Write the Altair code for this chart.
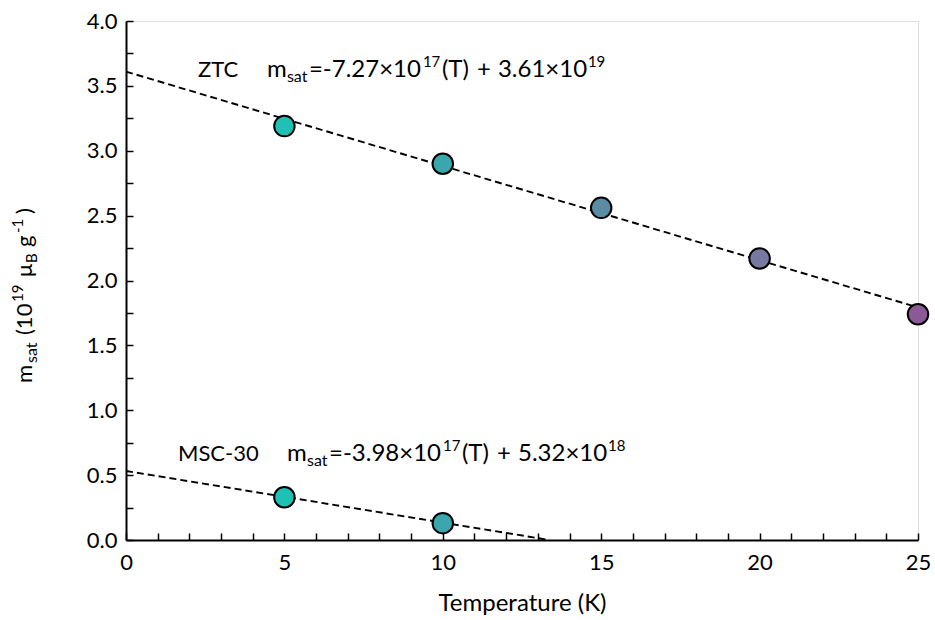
import altair as alt
import pandas as pd

# ---------------- data ----------------
ztc_temps = [5, 10, 15, 20, 25]
ztc_msat = [3.19, 2.90, 2.56, 2.17, 1.74]
ztc_colors = ["#1fc1b4", "#3aa7ad", "#5a8ca3", "#7879a1", "#8b5996"]

msc_temps = [5, 10]
msc_msat = [0.33, 0.13]
msc_colors = ["#1fc1b4", "#3aa7ad"]

# linear fits (from the printed equations, in units of 1e19)
ztc_fit_T = [0, 25]
ztc_fit_m = [3.61, 3.61 - 0.0727 * 25]
msc_fit_T = [0, 0.532 / 0.0398]
msc_fit_m = [0.532, 0.0]

x_ticks = list(range(0, 26))
y_ticks = [i * 0.25 for i in range(17)]

FONT = "Lato"

pts = pd.DataFrame({
    "T": ztc_temps + msc_temps,
    "m": ztc_msat + msc_msat,
    "c": ztc_colors + msc_colors,
})
fit_ztc = pd.DataFrame({"T": ztc_fit_T, "m": ztc_fit_m})
fit_msc = pd.DataFrame({"T": msc_fit_T, "m": msc_fit_m})

xs = alt.Scale(domain=[0, 25], nice=False, zero=False)
ys = alt.Scale(domain=[0, 4], nice=False, zero=False)

x_axis = alt.Axis(
    values=x_ticks,
    labelExpr="datum.value % 5 === 0 ? datum.label : ''",
    format="d",
    tickSize={"expr": "-7"},
    tickWidth=1.5, tickColor="black",
    domainColor="black", domainWidth=2,
    labelFont=FONT, labelFontSize=22, labelColor="black", labelPadding=19,
    title="Temperature (K)", titleFont=FONT, titleFontSize=24,
    titleFontWeight="normal", titleColor="black", titlePadding=18,
    grid=False, labelFlush=False, labelOverlap=False,
)
y_axis = alt.Axis(
    values=y_ticks,
    labelExpr="(datum.value * 2) % 1 === 0 ? format(datum.value, '.1f') : ''",
    tickSize={"expr": "-7"},
    tickWidth=1.5, tickColor="black",
    domainColor="black", domainWidth=2,
    labelFont=FONT, labelFontSize=22, labelColor="black", labelPadding=16,
    title=None, grid=False, labelFlush=False, labelOverlap=False,
)


def X():
    return alt.X("T:Q", scale=xs, axis=x_axis)


def Y():
    return alt.Y("m:Q", scale=ys, axis=y_axis)


line_ztc = alt.Chart(fit_ztc).mark_line(
    color="black", strokeDash=[7, 4], strokeWidth=1.9
).encode(x=X(), y=Y())
line_msc = alt.Chart(fit_msc).mark_line(
    color="black", strokeDash=[7, 4], strokeWidth=1.9
).encode(x=X(), y=Y())

points = alt.Chart(pts).mark_circle(
    size=420, stroke="black", strokeWidth=2, opacity=1
).encode(x=X(), y=Y(), color=alt.Color("c:N", scale=None))

layers = [line_ztc, line_msc, points]


# ---------- annotations (rich text built from pieces) ----------
def ann(T, m, pieces):
    out = []
    df = pd.DataFrame({"T": [T], "m": [m]})
    for text, dx, dy, size in pieces:
        out.append(
            alt.Chart(df).mark_text(
                text=text, align="left", baseline="alphabetic",
                dx=dx, dy=dy, font=FONT, fontSize=size, color="black"
            ).encode(x=X(), y=Y())
        )
    return out


LBL, EQ, SUB, SUP = 22, 24, 16, 15
layers += ann(2.27, 3.568, [
    ("ZTC", 0, 0, LBL),
    ("m", 69, 0, EQ),
    ("sat", 89, 5, SUB),
    ("=-7.27×10", 111, 0, EQ),
    ("17", 225, -10, SUP),
    ("(T)", 244, 0, EQ),
    ("+", 279, 0, EQ),
    ("3.61×10", 300, 0, EQ),
    ("19", 390, -10, SUP),
])
layers += ann(1.64, 0.609, [
    ("MSC-30", 0, 0, LBL),
    ("m", 109, 0, EQ),
    ("sat", 129, 5, SUB),
    ("=-3.98×10", 151, 0, EQ),
    ("17", 265, -10, SUP),
    ("(T)", 284, 0, EQ),
    ("+", 319, 0, EQ),
    ("5.32×10", 340, 0, EQ),
    ("18", 430, -10, SUP),
])

# ---------- rotated y-axis title ----------
ytitle_pieces = [
    ("m", 0, 0, 22),
    ("sat", 20, 5, 16),
    ("(10", 48, 0, 22),
    ("19", 81, -9, 15),
    ("μ", 106, 0, 22),
    ("B", 120, 5, 15),
    ("g", 136, 0, 22),
    ("-1", 150, -9, 15),
    (")", 169, 0, 22),
]
for text, dx, dy, size in ytitle_pieces:
    layers.append(
        alt.Chart(pd.DataFrame({"a": [0]})).mark_text(
            text=text, align="left", baseline="alphabetic", angle=270,
            dx=dx, dy=dy, font=FONT, fontSize=size, color="black"
        ).encode(x=alt.value(-94), y=alt.value(362))
    )

chart = alt.layer(*layers).properties(
    width=792, height=519,
    padding={"left": 126, "top": 21, "right": 17, "bottom": 80},
    autosize=alt.AutoSizeParams(type="none"),
).configure_view(
    stroke="black", strokeWidth=2
).configure(background="white")

chart.save("out.html", embed_options={"renderer": "svg", "actions": False})
